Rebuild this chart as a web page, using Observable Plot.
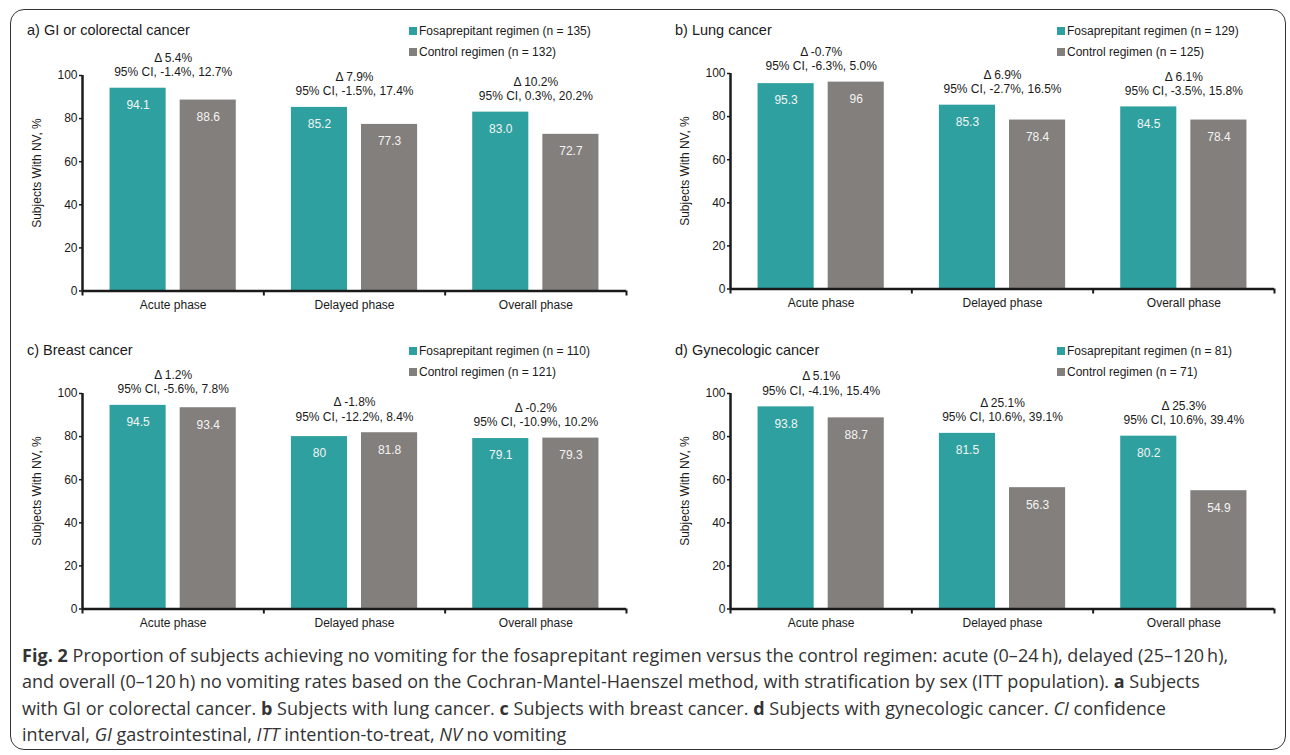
<!DOCTYPE html>
<html>
<head>
<meta charset="utf-8">
<script src="https://cdn.jsdelivr.net/npm/d3@7"></script>
<script src="https://cdn.jsdelivr.net/npm/@observablehq/plot@0.6"></script>
<style>
  html, body { margin: 0; padding: 0; background: #fff; }
  #root { position: relative; width: 1290px; height: 755px; overflow: hidden; font-family: "Liberation Sans", Arial, sans-serif; }
  #frame { position: absolute; left: 10px; top: 9px; width: 1276px; height: 741px; border: 1.5px solid #333; border-radius: 14px; box-sizing: border-box; }
  .panel { position: absolute; width: 648px; height: 320px; }
  .panel svg { position: absolute; left: 0; }
  .ptitle { position: absolute; left: 27px; top: 22px; font-size: 14.5px; color: #1a1a1a; white-space: nowrap; }
  .leg { position: absolute; left: 409px; font-size: 12px; color: #1a1a1a; white-space: nowrap; line-height: 14px; }
  .leg span.sw { display: inline-block; width: 8px; height: 8px; margin-right: 2px; vertical-align: 0px; }
  .ylab { position: absolute; left: 37px; width: 0; height: 0; }
  .ylab span { position: absolute; left: 0; top: 0; transform: translate(-50%, -50%) rotate(-90deg); font-size: 12px; color: #1a1a1a; white-space: nowrap; line-height: 14px; }
  #caption { position: absolute; left: 22px; top: 642px; font-family: "Open Sans", sans-serif; font-size: 18px; letter-spacing: 0.03px; line-height: 26.3px; color: #333; white-space: nowrap; }
</style>
</head>
<body>
<div id="root"><div id="frame"></div></div>
<script>
const phases = ["Acute phase", "Delayed phase", "Overall phase"];
const panelTitles = ["a) GI or colorectal cancer", "b) Lung cancer", "c) Breast cancer", "d) Gynecologic cancer"];
const seriesNames = ["Fosaprepitant regimen", "Control regimen"];
const fosaN = [135, 129, 110, 81];
const controlN = [132, 125, 121, 71];
const fosaValues = [[94.1, 85.2, 83.0], [95.3, 85.3, 84.5], [94.5, 80, 79.1], [93.8, 81.5, 80.2]];
const controlValues = [[88.6, 77.3, 72.7], [96, 78.4, 78.4], [93.4, 81.8, 79.3], [88.7, 56.3, 54.9]];
const fosaLabels = [["94.1", "85.2", "83.0"], ["95.3", "85.3", "84.5"], ["94.5", "80", "79.1"], ["93.8", "81.5", "80.2"]];
const controlLabels = [["88.6", "77.3", "72.7"], ["96", "78.4", "78.4"], ["93.4", "81.8", "79.3"], ["88.7", "56.3", "54.9"]];
const deltas = [["5.4%", "7.9%", "10.2%"], ["-0.7%", "6.9%", "6.1%"], ["1.2%", "-1.8%", "-0.2%"], ["5.1%", "25.1%", "25.3%"]];
const ciLow = [["-1.4%", "-1.5%", "0.3%"], ["-6.3%", "-2.7%", "-3.5%"], ["-5.6%", "-12.2%", "-10.9%"], ["-4.1%", "10.6%", "10.6%"]];
const ciHigh = [["12.7%", "17.4%", "20.2%"], ["5.0%", "16.5%", "15.8%"], ["7.8%", "8.4%", "10.2%"], ["15.4%", "39.1%", "39.4%"]];
const yTicks = [0, 20, 40, 60, 80, 100];
const yLabel = "Subjects With NV, %";

const TEAL = "#2ea09f";
const GRAY = "#837f7c";
const INK = "#1a1a1a";
const BAND = 181;              // px per phase band
const L1 = 27.5 / BAND, R1 = 83.5 / BAND, L2 = 97.5 / BAND, R2 = 153.5 / BAND;

const panelLeft = [0, 648, 0, 648];
const panelTop = [0, 0, 320, 320];
const svgShift = [2, 0, 0, 0];

const root = document.getElementById("root");

for (let p = 0; p < 4; p++) {
  const bars = phases.map((ph, i) => ({
    i, phase: ph,
    fosa: fosaValues[p][i], control: controlValues[p][i],
    fosaLabel: fosaLabels[p][i], controlLabel: controlLabels[p][i],
    note: "\u0394 " + deltas[p][i] + "\n95% CI, " + ciLow[p][i] + ", " + ciHigh[p][i]
  }));

  const chart = Plot.plot({
    width: 648,
    height: 320,
    marginLeft: 82,
    marginRight: 22,
    marginTop: 73,
    marginBottom: 31.5,
    style: { fontFamily: "Liberation Sans, Arial, sans-serif", fontSize: "12px", color: INK, background: "transparent" },
    x: { type: "linear", domain: [0, 3] },
    y: { domain: [0, 100] },
    marks: [
      Plot.rect(bars, { x1: d => d.i + L1, x2: d => d.i + R1, y1: () => 0, y2: "fosa", fill: TEAL }),
      Plot.rect(bars, { x1: d => d.i + L2, x2: d => d.i + R2, y1: () => 0, y2: "control", fill: GRAY }),
      Plot.text(bars, { x: d => d.i + (L1 + R1) / 2, y: "fosa", text: "fosaLabel", fill: "#f4f4f4", fontSize: 12, dy: 17 }),
      Plot.text(bars, { x: d => d.i + (L2 + R2) / 2, y: "control", text: "controlLabel", fill: "#f4f4f4", fontSize: 12, dy: 17 }),
      Plot.text(bars, { x: d => d.i + 0.5, y: d => Math.max(d.fosa, d.control), text: "note", lineAnchor: "bottom", lineHeight: 1.2, dy: -12, fontSize: 12, fill: INK }),
      Plot.axisY({ ticks: yTicks, tickSize: 3, tickPadding: 2, fontSize: 12, label: null, stroke: INK, strokeWidth: 1.5, color: INK }),
      Plot.axisX({ ticks: [0, 1, 2, 3], tickSize: 5, tickFormat: () => "", label: null, strokeWidth: 2, stroke: INK }),
      Plot.axisX({ ticks: [0.5, 1.5, 2.5], tickSize: 0, tickPadding: 9, tickFormat: t => phases[Math.floor(t)], fontSize: 12, label: null, color: INK }),
      Plot.ruleX([0], { y1: () => 0, y2: () => 100, stroke: INK, strokeWidth: 2.5 }),
      Plot.ruleY([0], { x1: () => 0, x2: () => 3, stroke: INK, strokeWidth: 2.5 })
    ]
  });

  const div = document.createElement("div");
  div.className = "panel";
  div.style.left = panelLeft[p] + "px";
  div.style.top = panelTop[p] + "px";
  chart.style.top = svgShift[p] + "px";
  div.appendChild(chart);

  const t = document.createElement("div");
  t.className = "ptitle";
  t.textContent = panelTitles[p];
  div.appendChild(t);

  const yl = document.createElement("div");
  yl.className = "ylab";
  yl.style.top = (171 + svgShift[p]) + "px";
  const ys = document.createElement("span");
  ys.textContent = yLabel;
  yl.appendChild(ys);
  div.appendChild(yl);

  const colors = [TEAL, GRAY];
  const ns = [fosaN[p], controlN[p]];
  [24, 45].forEach((top, k) => {
    const lg = document.createElement("div");
    lg.className = "leg";
    lg.style.top = top + "px";
    const sw = document.createElement("span");
    sw.className = "sw";
    sw.style.background = colors[k];
    lg.appendChild(sw);
    lg.appendChild(document.createTextNode(seriesNames[k] + " (n = " + ns[k] + ")"));
    div.appendChild(lg);
  });

  root.appendChild(div);
}

const cap = document.createElement("div");
cap.id = "caption";
cap.innerHTML =
  "<b>Fig. 2</b> Proportion of subjects achieving no vomiting for the fosaprepitant regimen versus the control regimen: acute (0\u201324\u2009h), delayed (25\u2013120\u2009h),<br>" +
  "and overall (0\u2013120\u2009h) no vomiting rates based on the Cochran-Mantel-Haenszel method, with stratification by sex (ITT population). <b>a</b> Subjects<br>" +
  "with GI or colorectal cancer. <b>b</b> Subjects with lung cancer. <b>c</b> Subjects with breast cancer. <b>d</b> Subjects with gynecologic cancer. <i>CI</i> confidence<br>" +
  "interval, <i>GI</i> gastrointestinal, <i>ITT</i> intention-to-treat, <i>NV</i> no vomiting";
root.appendChild(cap);
</script>
</body>
</html>
